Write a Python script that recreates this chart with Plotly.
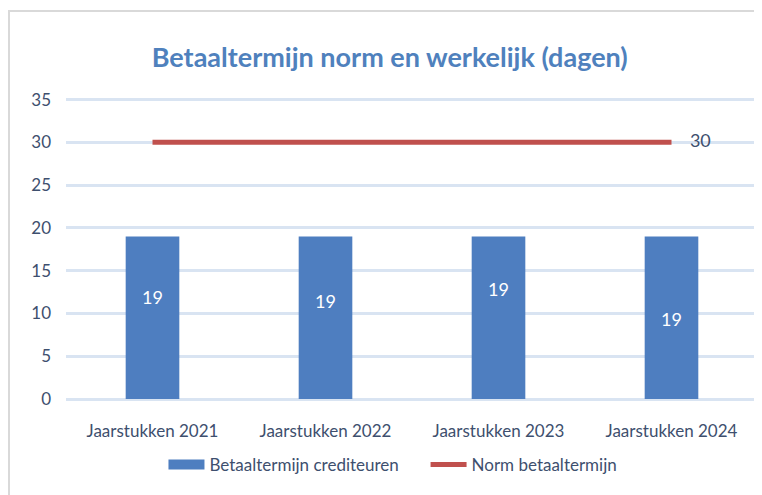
import plotly.graph_objects as go

# chart data
categories = ["Jaarstukken 2021", "Jaarstukken 2022", "Jaarstukken 2023", "Jaarstukken 2024"]
betaaltermijn = [19, 19, 19, 19]
norm = [30, 30, 30, 30]
y_ticks = [0, 5, 10, 15, 20, 25, 30, 35]

# where the data labels sit inside the bars (as in the original)
label_y = [11.9, 11.4, 12.8, 9.3]

FONT = "Lato, sans-serif"
TEXT_COLOR = "#3E4F6E"
BAR_COLOR = "#4E7EC0"
LINE_COLOR = "#C0504D"

fig = go.Figure()

fig.add_trace(
    go.Bar(
        x=categories,
        y=betaaltermijn,
        name="Betaaltermijn crediteuren",
        marker_color=BAR_COLOR,
        marker_line_width=0,
        showlegend=False,
    )
)

# legend entry drawn as a wide block like the original
fig.add_trace(
    go.Scatter(
        x=[None],
        y=[None],
        name="Betaaltermijn crediteuren     ",
        mode="lines",
        line=dict(color=BAR_COLOR, width=11),
    )
)

# value labels placed inside the bars
for cat, val, ly in zip(categories, betaaltermijn, label_y):
    fig.add_annotation(
        x=cat, y=ly, text=str(val), showarrow=False,
        font=dict(family=FONT, size=18, color="#ffffff"),
    )

fig.add_trace(
    go.Scatter(
        x=categories,
        y=norm,
        name="Norm betaaltermijn",
        mode="lines+text",
        line=dict(color=LINE_COLOR, width=5),
        text=[""] * (len(norm) - 1) + ["    " + str(norm[-1])],
        textposition="middle right",
        textfont=dict(family=FONT, size=18, color=TEXT_COLOR),
    )
)

fig.update_layout(
    width=762,
    height=495,
    margin=dict(l=58, r=12, t=89, b=104),
    plot_bgcolor="#ffffff",
    paper_bgcolor="#ffffff",
    bargap=0.69,
    font=dict(family=FONT, color=TEXT_COLOR, size=17),
    title=dict(
        text="<b>Betaaltermijn norm en werkelijk (dagen)</b>",
        x=0.501,
        xanchor="center",
        y=0.899,
        yanchor="middle",
        font=dict(family=FONT, size=27, color="#4F81BD"),
    ),
    legend=dict(
        orientation="h",
        x=0.4725,
        xanchor="center",
        y=-0.2185,
        yanchor="middle",
        font=dict(family=FONT, size=17, color=TEXT_COLOR),
        traceorder="normal",
        itemwidth=36,
    ),
    showlegend=True,
)

fig.update_yaxes(
    range=[0, 35.3],
    tickvals=y_ticks,
    showgrid=True,
    gridcolor="#D9E4F2",
    gridwidth=2.5,
    zeroline=True,
    zerolinecolor="#D9E4F2",
    zerolinewidth=2.5,
    ticks="",
    ticklabelstandoff=14,
    tickfont=dict(size=17),
)
fig.update_xaxes(
    showgrid=False,
    ticks="",
    ticklabelstandoff=20,
    tickfont=dict(size=17),
)

# light grey chart border
fig.add_shape(
    type="rect",
    xref="paper", yref="paper",
    x0=-0.0824, x1=1.2, y0=-0.6, y1=1.285,
    line=dict(color="#D9D9D9", width=2),
    layer="below",
)

fig.write_html("out.html")
